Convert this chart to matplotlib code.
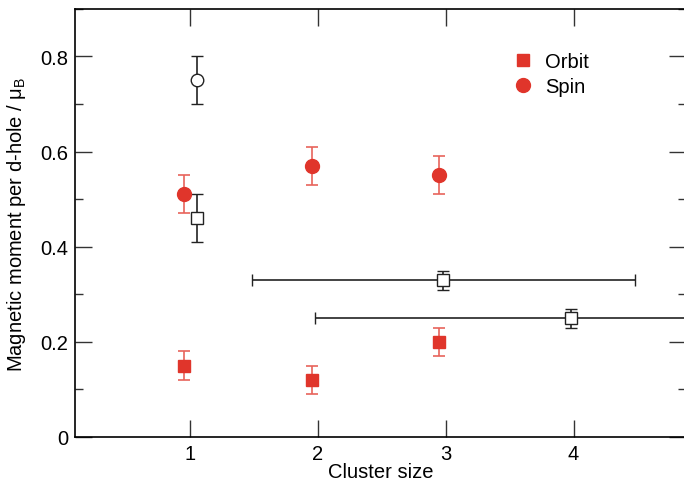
import matplotlib
matplotlib.use("Agg")
import matplotlib.pyplot as plt
from matplotlib.lines import Line2D
from matplotlib.ticker import MultipleLocator

plt.rcParams['font.family'] = ['Liberation Sans', 'DejaVu Sans']
plt.rcParams['mathtext.fontset'] = 'custom'
plt.rcParams['mathtext.rm'] = 'Liberation Sans'

# Orbital and spin moments (filled red)
red_x = [0.95, 1.95, 2.95]
orbit_y = [0.15, 0.12, 0.20]
orbit_err = [0.03, 0.03, 0.03]
spin_y = [0.51, 0.57, 0.55]
spin_err = [0.04, 0.04, 0.04]

# Comparison values (open symbols)
open_circle_x = [1.05]
open_circle_y = [0.75]
open_circle_err = [0.05]
open_square_x = [1.05, 2.98, 3.98]
open_square_y = [0.46, 0.33, 0.25]
open_square_yerr = [0.05, 0.02, 0.02]
open_square_xerr = [0.0, 1.5, 2.0]

xticks = [1, 2, 3, 4]
yticks = [0, 0.2, 0.4, 0.6, 0.8]
ytick_labels = ['0', '0.2', '0.4', '0.6', '0.8']

red = '#e0352b'
red_err = '#e8635b'
dark = '#222222'

fig = plt.figure(figsize=(6.84, 4.81), dpi=100)
ax = fig.add_axes([0.110, 0.0894, 0.893, 0.890])

ax.errorbar(red_x, orbit_y, yerr=orbit_err, fmt='s', color=red, ms=9,
            ecolor=red_err, elinewidth=1.2, capsize=4.5, capthick=1.2, zorder=3)
ax.errorbar(red_x, spin_y, yerr=spin_err, fmt='o', color=red, ms=10,
            ecolor=red_err, elinewidth=1.2, capsize=4.5, capthick=1.2, zorder=3)

ax.errorbar(open_circle_x, open_circle_y, yerr=open_circle_err, fmt='o',
            mfc='white', mec=dark, ms=9, mew=1.0, ecolor=dark,
            elinewidth=1.2, capsize=4.5, capthick=1.2, zorder=3)
ax.errorbar(open_square_x, open_square_y, yerr=open_square_yerr,
            xerr=open_square_xerr, fmt='s', mfc='white', mec=dark, ms=8,
            mew=1.0, ecolor=dark, elinewidth=1.2, capsize=4.5, capthick=1.2,
            zorder=3)

ax.set_xlim(0.1, 4.88)
ax.set_ylim(0, 0.9)
ax.set_xticks(xticks)
ax.set_yticks(yticks)
ax.set_yticklabels(ytick_labels)
ax.yaxis.set_minor_locator(MultipleLocator(0.1))

ax.tick_params(which='both', direction='in', top=True, right=True,
               labelsize=14.5, width=1.0, color='#333333', pad=5)
ax.tick_params(which='major', length=12)
ax.tick_params(which='minor', length=6)
ax.tick_params(axis='x', which='minor', bottom=False, top=False)
for s in ax.spines.values():
    s.set_linewidth(1.2)

ax.set_xlabel('Cluster size', fontsize=14.5, labelpad=-1)
ax.set_ylabel('Magnetic moment per d-hole / μ$_\\mathrm{B}$', fontsize=14.5,
              labelpad=9)

handles = [
    Line2D([], [], marker='s', color=red, ls='none', ms=9),
    Line2D([], [], marker='o', color=red, ls='none', ms=10),
]
ax.legend(handles, ['Orbit', 'Spin'], loc='upper left',
          bbox_to_anchor=(0.687, 0.942), frameon=False, fontsize=14.5,
          handletextpad=0.6, labelspacing=0.3, handlelength=1.0)

fig.savefig('out.png', dpi=100)
